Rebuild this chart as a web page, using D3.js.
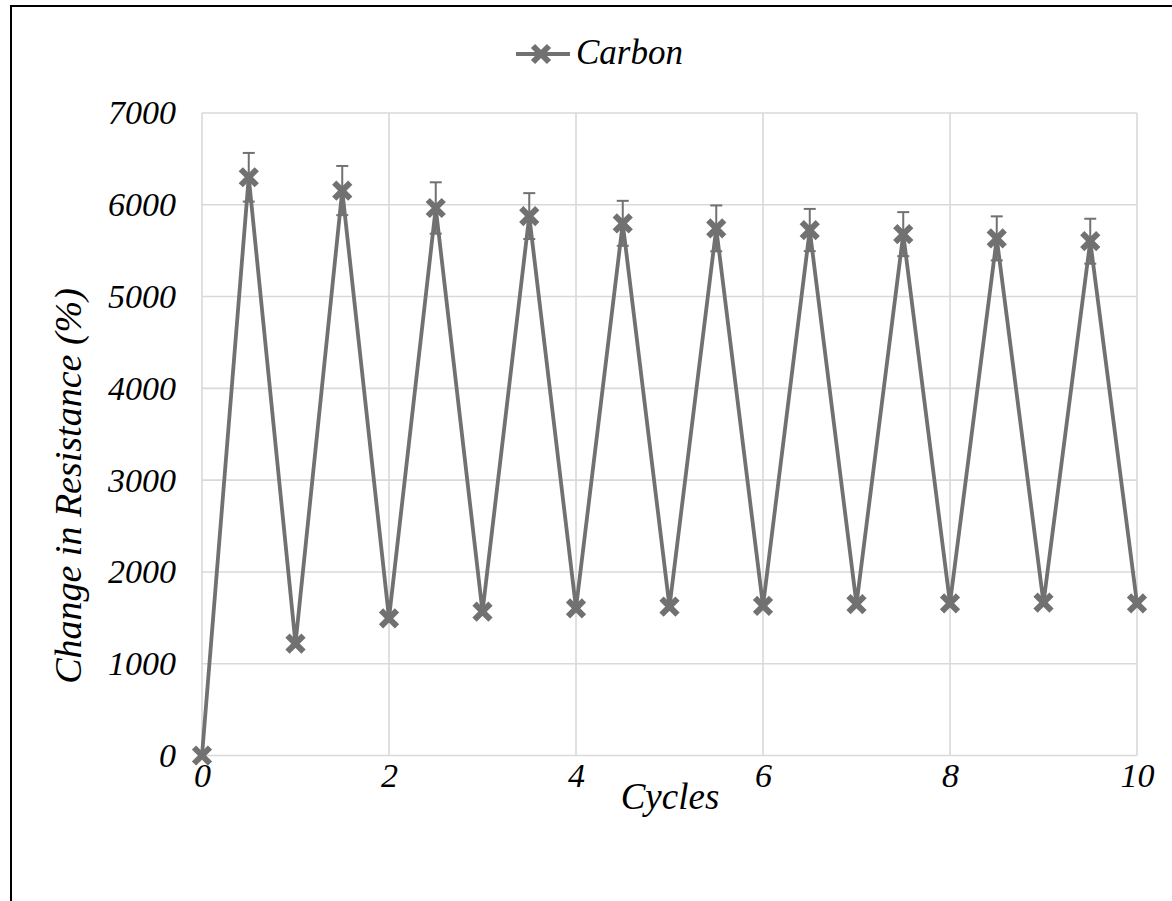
<!DOCTYPE html>
<html><head><meta charset="utf-8">
<script src="https://cdn.jsdelivr.net/npm/d3@7"></script>
<style>body{margin:0;background:#fff;}</style>
</head><body>
<svg id="c" width="1172" height="901"></svg>
<script>
const cycles = [0,0.5,1,1.5,2,2.5,3,3.5,4,4.5,5,5.5,6,6.5,7,7.5,8,8.5,9,9.5,10];
const resistance = [0,6300,1220,6155,1495,5965,1567,5877,1604,5798,1621,5743,1629,5725,1650,5680,1658,5634,1665,5603,1658];
const errors = [0,265,0,268,0,280,0,250,0,245,0,250,0,230,0,240,0,240,0,245,0];
const xTicks = [0,2,4,6,8,10];
const yTicks = [0,1000,2000,3000,4000,5000,6000,7000];
const seriesName = "Carbon";

const FONT = "Liberation Serif";
const svg = d3.select("#c");
const col = "#717171";
svg.append("rect").attr("x",11).attr("y",6).attr("width",1200).attr("height",1000)
  .attr("fill","none").attr("stroke","#000").attr("stroke-width",2);

const x = d3.scaleLinear().domain([0,10]).range([202,1137]);
const y = d3.scaleLinear().domain([0,7000]).range([755.5,113]);

const g = svg.append("g");
g.selectAll(".hg").data(yTicks).join("line").attr("x1",x(0)).attr("x2",x(10))
  .attr("y1",d=>y(d)).attr("y2",d=>y(d)).attr("stroke","#d9d9d9").attr("stroke-width",1.6);
g.selectAll(".vg").data(xTicks).join("line").attr("y1",y(0)).attr("y2",y(7000))
  .attr("x1",d=>x(d)).attr("x2",d=>x(d)).attr("stroke","#d9d9d9").attr("stroke-width",1.6);

function styleText(sel, size){
  sel.attr("font-family",FONT).attr("font-style","italic").attr("font-size",size||34).attr("fill","#000");
}
const ya = svg.append("g").attr("transform",`translate(${x(0)},0)`)
  .call(d3.axisLeft(y).tickValues(yTicks).tickSize(0).tickPadding(26).tickFormat(d3.format("d")));
ya.attr("font-family",FONT).attr("font-size",34);
ya.select(".domain").remove();
ya.selectAll("text").call(styleText, 34);
const xa = svg.append("g").attr("transform",`translate(0,${y(0)})`)
  .call(d3.axisBottom(x).tickValues(xTicks).tickSize(0).tickPadding(7).tickFormat(d3.format("d")));
xa.attr("font-family",FONT).attr("font-size",34);
xa.select(".domain").remove();
xa.selectAll("text").call(styleText, 34);

const data = cycles.map((c,i)=>({c, v:resistance[i], e:errors[i]}));

svg.append("path").datum(data).attr("fill","none").attr("stroke",col).attr("stroke-width",3.8)
  .attr("stroke-linejoin","round")
  .attr("d",d3.line().x(d=>x(d.c)).y(d=>y(d.v)));

const eb = svg.append("g").attr("stroke",col).attr("stroke-width",2);
data.filter(d=>d.e>0).forEach(d=>{
  eb.append("line").attr("x1",x(d.c)).attr("x2",x(d.c)).attr("y1",y(d.v-d.e)).attr("y2",y(d.v+d.e));
  [d.v-d.e,d.v+d.e].forEach(v=>eb.append("line").attr("x1",x(d.c)-6).attr("x2",x(d.c)+6).attr("y1",y(v)).attr("y2",y(v)));
});

function xmark(sel,cx,cy){
  const s=8;
  sel.append("path").attr("d",`M${cx-s},${cy-s}L${cx+s},${cy+s}M${cx-s},${cy+s}L${cx+s},${cy-s}`)
    .attr("stroke",col).attr("stroke-width",6).attr("fill","none");
}
const mk = svg.append("g");
data.forEach(d=>xmark(mk,x(d.c),y(d.v)));

const lg = svg.append("g");
lg.append("line").attr("x1",516).attr("x2",570).attr("y1",54).attr("y2",54).attr("stroke",col).attr("stroke-width",3.8);
xmark(lg,541,54);
lg.append("text").attr("x",576).attr("y",64).call(styleText, 35).text(seriesName);

svg.append("text").attr("x",670).attr("y",809).attr("text-anchor","middle").call(styleText, 37).text("Cycles");
svg.append("text").attr("transform",`translate(81,486) rotate(-90)`).attr("text-anchor","middle").call(styleText, 38).text("Change in Resistance (%)");
</script>
</body></html>
